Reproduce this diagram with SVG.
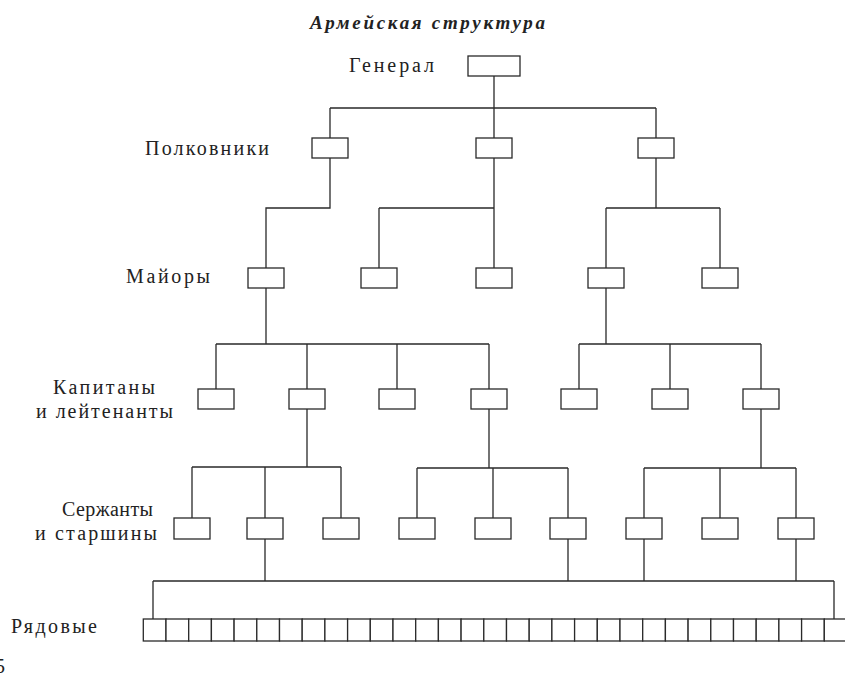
<svg xmlns="http://www.w3.org/2000/svg" width="845" height="676" viewBox="0 0 845 676">
<style>
.bg{fill:#fff}
.box{fill:#fff;stroke:#2a2a2a;stroke-width:1.3}
.ln{fill:none;stroke:#2a2a2a;stroke-width:1.3}
.lbl{font-family:"Liberation Serif","DejaVu Serif",serif;font-size:20px;fill:#222}
.ttl{font-family:"Liberation Serif","DejaVu Serif",serif;font-size:19px;font-weight:bold;font-style:italic;fill:#222}
</style>
<rect class="bg" x="0" y="0" width="845" height="676"/>
<text class="ttl" x="310" y="29" textLength="235" lengthAdjust="spacing">Армейская  структура</text>
<g id="labels">
<text class="lbl" x="349" y="72" textLength="85" lengthAdjust="spacing">Генерал</text>
<text class="lbl" x="145" y="155" textLength="124" lengthAdjust="spacing">Полковники</text>
<text class="lbl" x="126" y="283" textLength="84" lengthAdjust="spacing">Майоры</text>
<text class="lbl" x="53" y="394" textLength="102" lengthAdjust="spacing">Капитаны</text>
<text class="lbl" x="36" y="418" textLength="137" lengthAdjust="spacing">и  лейтенанты</text>
<text class="lbl" x="62" y="516" textLength="91" lengthAdjust="spacing">Сержанты</text>
<text class="lbl" x="35" y="540" textLength="122" lengthAdjust="spacing">и  старшины</text>
<text class="lbl" x="11" y="633" textLength="86" lengthAdjust="spacing">Рядовые</text>
<text class="lbl" x="-5" y="673">5</text>
</g>
<g id="connectors">
<path class="ln" d="M494 76V108M330 108H656M330 108V138M494 108V138M656 108V138"/>
<path class="ln" d="M330 158V208H266V268"/>
<path class="ln" d="M494 158V268M379 208H494M379 208V268"/>
<path class="ln" d="M656 158V208M606 208H720M606 208V268M720 208V268"/>
<path class="ln" d="M266 288V344M216 344H489M216 344V389M307 344V389M397 344V389M489 344V389"/>
<path class="ln" d="M606 288V344M579 344H761M579 344V389M670 344V389M761 344V389"/>
<path class="ln" d="M307 409V467M192 467H341M192 467V518M265 467V518M341 467V518"/>
<path class="ln" d="M489 409V468M417 468H568M417 468V518M493 468V518M568 468V518"/>
<path class="ln" d="M761 409V468M644 468H796M644 468V518M720 468V518M796 468V518"/>
<path class="ln" d="M265 539V581M568 539V581M644 539V581M796 539V581M153 581H834M153 581V619M834 581V619"/>
</g>
<g id="general"><rect class="box" x="468" y="56" width="52" height="20"/></g>
<g id="colonel-1"><rect class="box" x="312" y="138" width="36" height="20"/></g>
<g id="colonel-2"><rect class="box" x="476" y="138" width="36" height="20"/></g>
<g id="colonel-3"><rect class="box" x="638" y="138" width="36" height="20"/></g>
<g id="major-1"><rect class="box" x="248" y="268" width="36" height="20"/></g>
<g id="major-2"><rect class="box" x="361" y="268" width="36" height="20"/></g>
<g id="major-3"><rect class="box" x="476" y="268" width="36" height="20"/></g>
<g id="major-4"><rect class="box" x="588" y="268" width="36" height="20"/></g>
<g id="major-5"><rect class="box" x="702" y="268" width="36" height="20"/></g>
<g id="captain-1"><rect class="box" x="198" y="389" width="36" height="20"/></g>
<g id="captain-2"><rect class="box" x="289" y="389" width="36" height="20"/></g>
<g id="captain-3"><rect class="box" x="379" y="389" width="36" height="20"/></g>
<g id="captain-4"><rect class="box" x="471" y="389" width="36" height="20"/></g>
<g id="captain-5"><rect class="box" x="561" y="389" width="36" height="20"/></g>
<g id="captain-6"><rect class="box" x="652" y="389" width="36" height="20"/></g>
<g id="captain-7"><rect class="box" x="743" y="389" width="36" height="20"/></g>
<g id="sergeant-1"><rect class="box" x="174" y="518" width="36" height="21"/></g>
<g id="sergeant-2"><rect class="box" x="247" y="518" width="36" height="21"/></g>
<g id="sergeant-3"><rect class="box" x="323" y="518" width="36" height="21"/></g>
<g id="sergeant-4"><rect class="box" x="399" y="518" width="36" height="21"/></g>
<g id="sergeant-5"><rect class="box" x="475" y="518" width="36" height="21"/></g>
<g id="sergeant-6"><rect class="box" x="550" y="518" width="36" height="21"/></g>
<g id="sergeant-7"><rect class="box" x="626" y="518" width="36" height="21"/></g>
<g id="sergeant-8"><rect class="box" x="702" y="518" width="36" height="21"/></g>
<g id="sergeant-9"><rect class="box" x="778" y="518" width="36" height="21"/></g>
<g id="privates">
<rect id="private-1" class="box" x="143.3" y="619" width="22.7" height="22"/>
<rect id="private-2" class="box" x="166.0" y="619" width="22.7" height="22"/>
<rect id="private-3" class="box" x="188.7" y="619" width="22.7" height="22"/>
<rect id="private-4" class="box" x="211.4" y="619" width="22.7" height="22"/>
<rect id="private-5" class="box" x="234.1" y="619" width="22.7" height="22"/>
<rect id="private-6" class="box" x="256.8" y="619" width="22.7" height="22"/>
<rect id="private-7" class="box" x="279.5" y="619" width="22.7" height="22"/>
<rect id="private-8" class="box" x="302.2" y="619" width="22.7" height="22"/>
<rect id="private-9" class="box" x="324.9" y="619" width="22.7" height="22"/>
<rect id="private-10" class="box" x="347.6" y="619" width="22.7" height="22"/>
<rect id="private-11" class="box" x="370.3" y="619" width="22.7" height="22"/>
<rect id="private-12" class="box" x="393.0" y="619" width="22.7" height="22"/>
<rect id="private-13" class="box" x="415.7" y="619" width="22.7" height="22"/>
<rect id="private-14" class="box" x="438.4" y="619" width="22.7" height="22"/>
<rect id="private-15" class="box" x="461.1" y="619" width="22.7" height="22"/>
<rect id="private-16" class="box" x="483.8" y="619" width="22.7" height="22"/>
<rect id="private-17" class="box" x="506.5" y="619" width="22.7" height="22"/>
<rect id="private-18" class="box" x="529.2" y="619" width="22.7" height="22"/>
<rect id="private-19" class="box" x="551.9" y="619" width="22.7" height="22"/>
<rect id="private-20" class="box" x="574.6" y="619" width="22.7" height="22"/>
<rect id="private-21" class="box" x="597.3" y="619" width="22.7" height="22"/>
<rect id="private-22" class="box" x="620.0" y="619" width="22.7" height="22"/>
<rect id="private-23" class="box" x="642.7" y="619" width="22.7" height="22"/>
<rect id="private-24" class="box" x="665.4" y="619" width="22.7" height="22"/>
<rect id="private-25" class="box" x="688.1" y="619" width="22.7" height="22"/>
<rect id="private-26" class="box" x="710.8" y="619" width="22.7" height="22"/>
<rect id="private-27" class="box" x="733.5" y="619" width="22.7" height="22"/>
<rect id="private-28" class="box" x="756.2" y="619" width="22.7" height="22"/>
<rect id="private-29" class="box" x="778.9" y="619" width="22.7" height="22"/>
<rect id="private-30" class="box" x="801.6" y="619" width="22.7" height="22"/>
<rect id="private-31" class="box" x="824.3" y="619" width="22.7" height="22"/>
</g>
</svg>
